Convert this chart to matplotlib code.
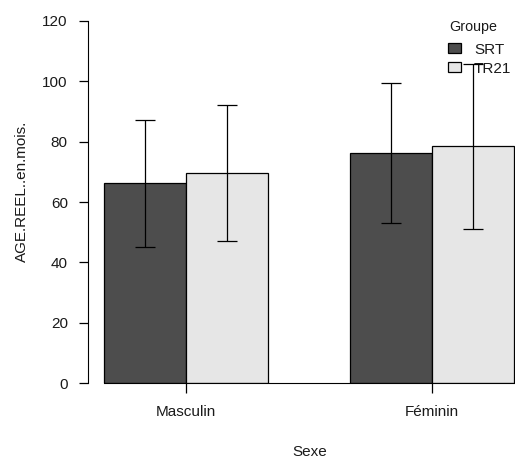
import numpy as np
import matplotlib.pyplot as plt

plt.rcParams['font.family'] = ['Liberation Sans', 'DejaVu Sans']
plt.rcParams['text.color'] = '#1a1a1a'
plt.rcParams['xtick.labelcolor'] = '#1a1a1a'
plt.rcParams['ytick.labelcolor'] = '#1a1a1a'

sexe = ["Masculin", "Féminin"]
groupes = ["SRT", "TR21"]
moyennes = {"SRT": [66.2, 76.3], "TR21": [69.6, 78.4]}
ecarts = {"SRT": [21.1, 23.3], "TR21": [22.5, 27.4]}
couleurs = {"SRT": "#4d4d4d", "TR21": "#e6e6e6"}

W, H = 515, 461
fs = 11
fig = plt.figure(figsize=(W / 100, H / 100), dpi=100)
ax = fig.add_axes([88 / W, (H - 383) / H, 1 - 88 / W, (383 - 21) / H])
ax.set_xlim(1 - 16 / 82, 1 + (W - 104) / 82)
ax.set_ylim(0, 120)

for i, g in enumerate(groupes):
    left = np.arange(len(sexe)) * 3 + 1 + i
    ax.bar(left, moyennes[g], width=1, align='edge', color=couleurs[g],
           edgecolor='black', linewidth=0.9, label=g, zorder=2)
    ax.errorbar(left + 0.5, moyennes[g], yerr=ecarts[g], fmt='none',
                ecolor='black', elinewidth=0.9, capsize=7, capthick=0.9,
                zorder=3, clip_on=False)

ax.spines['top'].set_visible(False)
ax.spines['right'].set_visible(False)
ax.spines['left'].set_bounds(0, 120)
ax.spines['bottom'].set_bounds(1, ax.get_xlim()[1])
ax.set_yticks(range(0, 121, 20))
ax.set_xticks(np.arange(len(sexe)) * 3 + 2)
ax.set_xticklabels(sexe)
ax.tick_params(axis='y', length=6.5, width=0.9, pad=8, labelsize=fs)
ax.tick_params(axis='x', length=7, width=0.9, pad=9, labelsize=fs)

fig.text(22 / W, 1 - 191 / H, "AGE.REEL..en.mois.", rotation=90,
         ha='center', va='center', fontsize=fs)
fig.text(310 / W, 1 - 452 / H, "Sexe", ha='center', va='center', fontsize=fs)

# legende
fig.text(473.5 / W, 1 - 27.5 / H, "Groupe", ha='center', va='center', fontsize=10.3)
leg = ax.legend(loc='upper left', frameon=False,
                bbox_to_anchor=(448 / W, 1 - 42.5 / H),
                bbox_transform=fig.transFigure, fontsize=fs,
                handlelength=0.85, handleheight=0.65, handletextpad=0.85,
                labelspacing=0.34, borderpad=0, borderaxespad=0)
leg.set_zorder(1)

fig.savefig("out.png", dpi=100)
